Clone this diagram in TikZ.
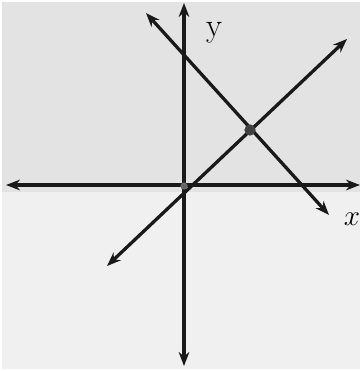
\documentclass[tikz,border=0pt]{standalone}
\usepackage{tikz}
\usetikzlibrary{arrows.meta, calc}
\tikzset{
    axis/.style={{Stealth[length=4.2mm, width=3.2mm]}-{Stealth[length=4.2mm, width=3.2mm]}, line width=2.8pt, black!90},
    lineb/.style={{Stealth[length=4.2mm, width=3.2mm]}-{Stealth[length=4.2mm, width=3.2mm]}, line width=2.8pt, black!90},
    pointdot/.style={circle, fill=black!75, inner sep=0pt, minimum size=3.4mm},
    axislabel/.style={font=\fontsize{28}{32}\selectfont, inner sep=0pt},
}

\begin{document}
\begin{tikzpicture}[x=0.03cm, y=-0.03cm]

% Frame and background
\useasboundingbox (0,0) rectangle (362,371);
\fill[black!11] (2,2) rectangle (360,369);
\fill[black!6] (2,192) rectangle (360,369);

% Named points
\coordinate (left) at (6,185);
\coordinate (right) at (360,185);
\coordinate (top) at (184,3);
\coordinate (bottom) at (184,366);
\coordinate (origin) at (184,186);
\coordinate (lowleft) at (107,266);
\coordinate (upright) at (347,39);
\coordinate (upleft) at (146,13);
\coordinate (lowright) at (329,215);

% Axes
\draw[axis] (left) -- (right);
\draw[axis] (top) -- (bottom);

% Diagonal lines
\draw[lineb] (lowleft) -- (upright);
\draw[lineb] (upleft) -- (lowright);

% Points
\node[pointdot, minimum size=2.2mm, fill=black!60] (o) at (origin) {};
\node[pointdot] (p) at (250,130) {};

% Labels
\node[axislabel] (ylab) at (214,33) {y};
\node[axislabel] (xlab) at (352,219) {$x$};

\end{tikzpicture}
\end{document}
